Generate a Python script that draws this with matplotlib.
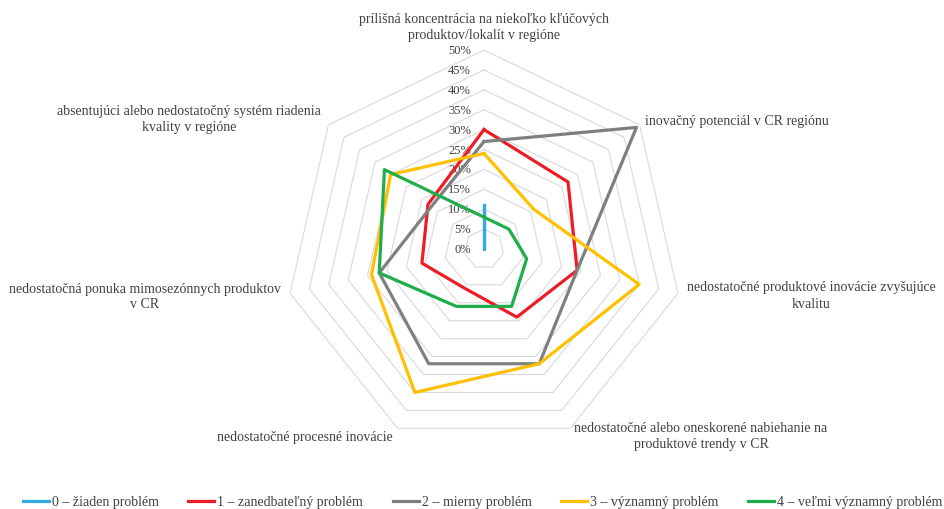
import numpy as np
import matplotlib
matplotlib.use("Agg")
import matplotlib.pyplot as plt
from matplotlib.transforms import offset_copy

plt.rcParams['font.family'] = ['Liberation Serif', 'DejaVu Serif']

# ==========================
# DATA (share of answers, %)
# ==========================
categories = [
    "prílišná koncentrácia na niekoľko kľúčových\nproduktov/lokalít v regióne",
    "inovačný potenciál v CR regiónu",
    "nedostatočné produktové inovácie zvyšujúce\nkvalitu",
    "nedostatočné alebo oneskorené nabiehanie na\nproduktové trendy v CR",
    "nedostatočné procesné inovácie",
    "nedostatočná ponuka mimosezónnych produktov\nv CR",
    "absentujúci alebo nedostatočný systém riadenia\nkvality v regióne",
]

series_names = [
    "0 – žiaden problém",
    "1 – zanedbateľný problém",
    "2 – mierny problém",
    "3 – významný problém",
    "4 – veľmi významný problém",
]

level0 = [11, 0, 0, 0, 0, 0, 0]
level1 = [30, 27, 24, 19, 11, 16, 18]
level2 = [27, 49, 24, 32, 32, 27, 17]
level3 = [24, 16, 40, 32, 40, 29, 30]
level4 = [8, 8, 11, 16, 16, 27, 32]

colors = ["#35a9e1", "#ee1c25", "#7f7f7f", "#ffc000", "#1fad4b"]
ticks = list(range(0, 55, 5))

# ==========================
# FIGURE
# ==========================
W, H = 945, 510
fig = plt.figure(figsize=(W / 100, H / 100), dpi=100)

cx, cy, R = 484, 250, 199
ax = fig.add_axes([(cx - R) / W, (H - cy - R) / H, 2 * R / W, 2 * R / H],
                  projection='polar')
ax.set_theta_zero_location('N')
ax.set_theta_direction(-1)
ax.set_ylim(0, 50)
ax.set_axis_off()

n = len(categories)
theta = np.arange(n) * 2 * np.pi / n
theta_c = np.append(theta, theta[0])

# heptagon grid
for t in ticks[1:]:
    ax.plot(theta_c, [t] * (n + 1), color="#d9d9d9", lw=0.8, zorder=1)

# value labels along the top axis
lab_tr = offset_copy(ax.transData, fig=fig, x=-13, y=0, units='dots')
for t in ticks:
    ax.text(0, t, f"{t}%", transform=lab_tr, ha='right', va='center',
            fontsize=9, color="#404040", zorder=2)

# series
data = [level0, level1, level2, level3, level4]
for vals, name, col in zip(data, series_names, colors):
    v = np.append(vals, vals[0])
    ax.plot(theta_c, v, color=col, lw=2.3, label=name, zorder=3)

# category labels (pixel positions)
def px(x, y):
    return x / W, 1 - y / H

label_pos = [
    (484, 27, 'center'),
    (645, 121, 'left'),
    (811, 296, 'center'),
    (701, 437, 'center'),
    (393, 438, 'right'),
    (145, 297, 'center'),
    (189, 120, 'center'),
]
for text, (x, y, ha) in zip(categories, label_pos):
    fx, fy = px(x, y)
    fig.text(fx, fy, text, ha=ha, va='center', multialignment='center',
             fontsize=10, color="#404040", linespacing=1.3)

# legend
handles, labels = ax.get_legend_handles_labels()
lx, ly = px(23, 503)
fig.legend(handles, labels, loc='center left', bbox_to_anchor=(lx, ly),
           ncol=5, frameon=False, fontsize=10, handlelength=1.87,
           handletextpad=0.2, columnspacing=2.15, borderpad=0,
           borderaxespad=0, labelcolor="#404040")

fig.savefig("out.png", dpi=100)
